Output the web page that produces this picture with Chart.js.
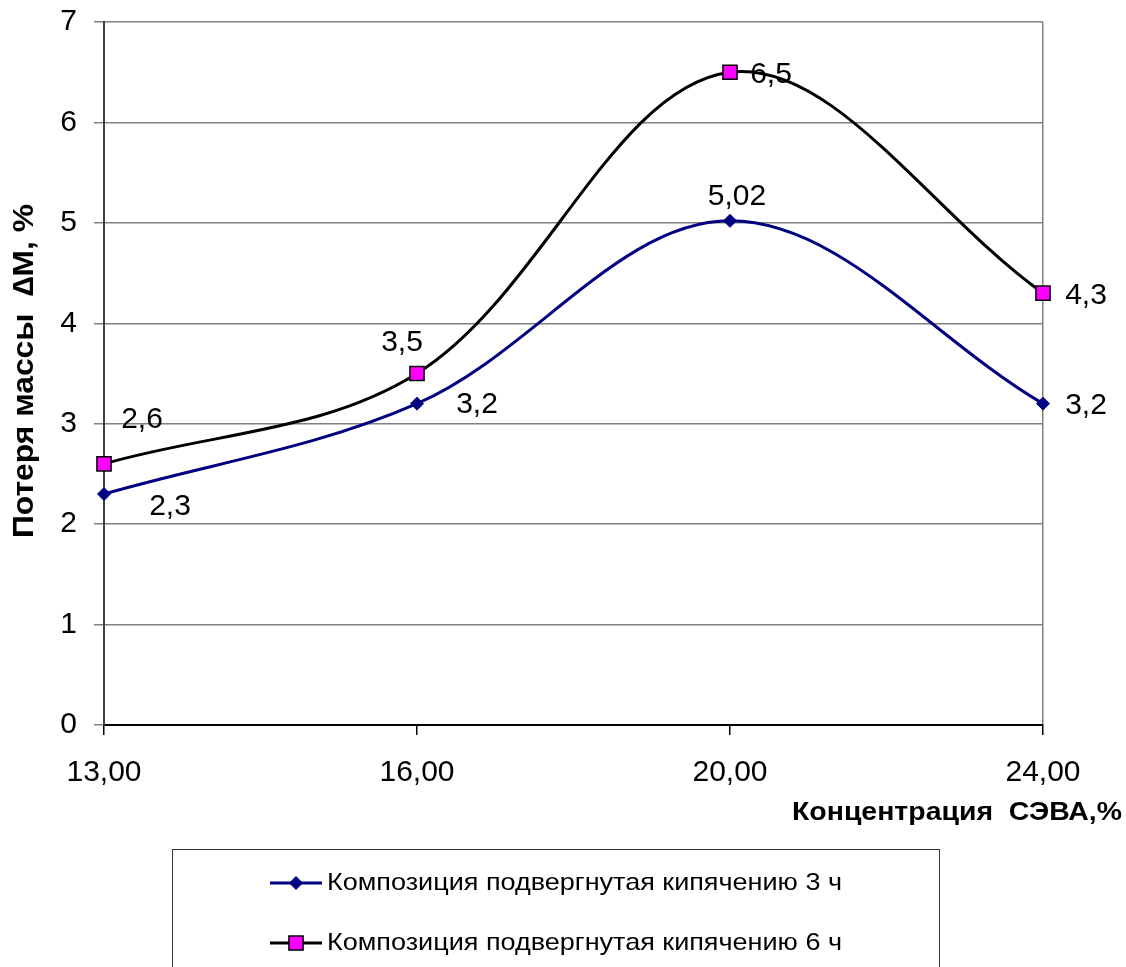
<!DOCTYPE html>
<html>
<head>
<meta charset="utf-8">
<script src="https://cdn.jsdelivr.net/npm/chart.js@4"></script>
<style>
  html, body { margin: 0; padding: 0; background: #fff; }
</style>
</head>
<body>
<canvas id="chart" width="1126" height="967"></canvas>
<script>
// concentration of SEVA, %  (category axis)
const categories = ['13,00', '16,00', '20,00', '24,00'];
// mass loss, %
const boiled3h = [2.3, 3.2, 5.02, 3.2];
const boiled6h = [2.6, 3.5, 6.5, 4.3];
const seriesNames = [
    'Композиция подвергнутая кипячению 3 ч',
    'Композиция подвергнутая кипячению 6 ч'
];
const xTitle = 'Концентрация  СЭВА,%';
const yTitle = 'Потеря массы  ∆M, %';

const FONT = '"Liberation Sans", Arial, sans-serif';

// where each value label sits relative to its point (px)
const labelOffsets = [
    [[66, 13], [60, 1], [7, -24], [43, 2]],
    [[38, -44], [-15, -31], [41, 3], [43, 3]]
];

// draw text squeezed/stretched horizontally to a given width
function fitText(ctx, txt, x, y, width) {
    const w = ctx.measureText(txt).width;
    ctx.save();
    ctx.translate(x, y);
    ctx.scale(width / w, 1);
    ctx.fillText(txt, 0, 0);
    ctx.restore();
}

const valueLabels = {
    id: 'valueLabels',
    afterDatasetsDraw(chart) {
        const ctx = chart.ctx;
        ctx.save();
        ctx.font = '30px ' + FONT;
        ctx.fillStyle = '#000';
        ctx.textAlign = 'center';
        ctx.textBaseline = 'middle';
        chart.data.datasets.forEach((ds, i) => {
            const meta = chart.getDatasetMeta(i);
            meta.data.forEach((pt, j) => {
                const off = labelOffsets[i][j];
                const txt = String(ds.data[j]).replace('.', ',');
                ctx.fillText(txt, pt.x + off[0], pt.y + off[1]);
            });
        });
        ctx.restore();
    }
};

const titlesAndLegend = {
    id: 'titlesAndLegend',
    afterDraw(chart) {
        const ctx = chart.ctx;
        ctx.save();
        // axis titles
        ctx.fillStyle = '#000';
        ctx.textBaseline = 'middle';
        ctx.textAlign = 'left';
        ctx.font = 'bold 25px ' + FONT;
        fitText(ctx, xTitle, 792, 813, 330);
        ctx.translate(25, 371);
        ctx.rotate(-Math.PI / 2);
        ctx.font = 'bold 29px ' + FONT;
        fitText(ctx, yTitle, -167, 0, 334);
        ctx.restore();

        // legend box
        ctx.save();
        ctx.strokeStyle = '#333';
        ctx.lineWidth = 1;
        ctx.strokeRect(172.5, 849.5, 767, 140);
        ctx.font = '24px ' + FONT;
        ctx.textBaseline = 'middle';
        ctx.textAlign = 'left';
        const rows = [883, 943];
        chart.data.datasets.forEach((ds, i) => {
            const y = rows[i];
            ctx.strokeStyle = ds.borderColor;
            ctx.lineWidth = 3;
            ctx.beginPath();
            ctx.moveTo(270, y);
            ctx.lineTo(322, y);
            ctx.stroke();
            ctx.fillStyle = ds.pointBackgroundColor;
            ctx.strokeStyle = ds.pointBorderColor;
            ctx.lineWidth = ds.pointBorderWidth;
            Chart.helpers.drawPoint(ctx, {
                pointStyle: ds.pointStyle,
                radius: ds.pointRadius,
                borderWidth: ds.pointBorderWidth,
                rotation: 0
            }, 296, y);
            ctx.fillStyle = '#000';
            fitText(ctx, seriesNames[i], 327, y, 515);
        });
        ctx.restore();
    }
};

new Chart(document.getElementById('chart'), {
    type: 'line',
    data: {
        labels: categories,
        datasets: [{
            label: seriesNames[0],
            data: boiled3h,
            borderColor: '#000080',
            borderWidth: 3,
            tension: 0.35,
            pointStyle: 'rectRot',
            pointRadius: 6.5,
            pointBackgroundColor: '#000080',
            pointBorderColor: '#000080',
            pointBorderWidth: 1
        }, {
            label: seriesNames[1],
            data: boiled6h,
            borderColor: '#000000',
            borderWidth: 3,
            tension: 0.35,
            pointStyle: 'rect',
            pointRadius: 10,
            pointBackgroundColor: '#FF00FF',
            pointBorderColor: '#000000',
            pointBorderWidth: 1.5
        }]
    },
    options: {
        responsive: false,
        animation: false,
        devicePixelRatio: 1,
        layout: { padding: { top: 22, right: 83, left: 0, bottom: 0 } },
        plugins: {
            legend: { display: false },
            tooltip: { enabled: false }
        },
        scales: {
            x: {
                type: 'category',
                offset: false,
                afterFit(scale) { scale.height = 242; },
                grid: {
                    color: c => c.index === categories.length - 1 ? '#808080' : 'rgba(0,0,0,0)',
                    tickColor: '#000',
                    tickLength: 10,
                    lineWidth: 1.5
                },
                border: { color: '#000', width: 2 },
                ticks: {
                    font: { family: FONT, size: 30 },
                    color: '#000',
                    padding: 20,
                    maxRotation: 0
                }
            },
            y: {
                min: 0,
                max: 7,
                afterFit(scale) {
                    scale.width = 104;
                    scale.paddingTop = 0;
                    scale.paddingBottom = 0;
                },
                grid: {
                    color: '#808080',
                    tickColor: '#808080',
                    tickLength: 10,
                    lineWidth: 1.5
                },
                border: { color: '#404040', width: 2 },
                ticks: {
                    stepSize: 1,
                    font: { family: FONT, size: 30 },
                    color: '#000',
                    padding: 17
                }
            }
        }
    },
    plugins: [valueLabels, titlesAndLegend]
});
</script>
</body>
</html>
